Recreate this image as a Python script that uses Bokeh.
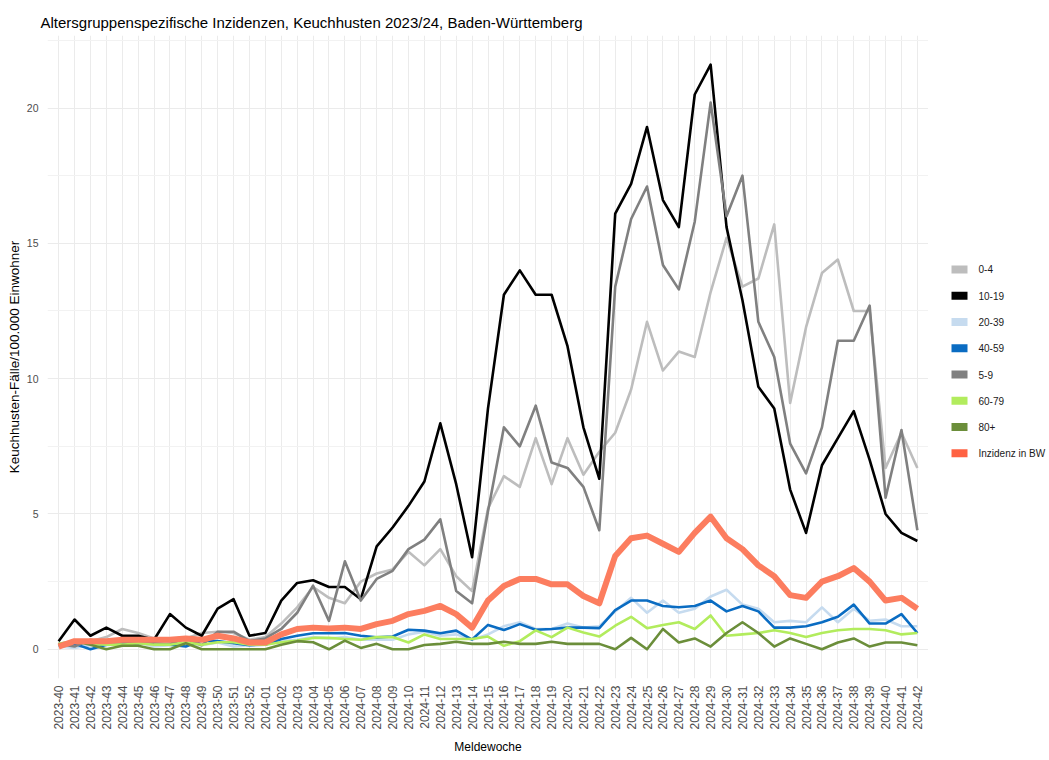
from bokeh.plotting import figure
from bokeh.models import FactorRange, Range1d, FixedTicker, ColumnDataSource
from bokeh.layouts import row
from bokeh.core.properties import value
from bokeh.embed import file_html
from bokeh.resources import INLINE

title = "Altersgruppenspezifische Inzidenzen, Keuchhusten 2023/24, Baden-Württemberg"
x_label = "Meldewoche"
y_label = "Keuchhusten-Fälle/100.000 Einwohner"

weeks = [f"2023-{w}" for w in range(40, 53)] + [f"2024-{w:02d}" for w in range(1, 43)]

age_0_4 = [0.2, 0.3, 0.3, 0.45, 0.75, 0.6, 0.4, 0.3, 0.4, 0.6, 0.65, 0.6, 0.35, 0.45, 0.95,
           1.55, 2.3, 1.9, 1.7, 2.5, 2.8, 2.95, 3.6, 3.1, 3.7, 2.7, 2.15, 5.2, 6.4, 6.0,
           7.8, 6.1, 7.8, 6.45, 7.3, 8.0, 9.6, 12.1, 10.3, 11.0, 10.8, 13.2, 15.2, 13.4, 13.7,
           15.7, 9.1, 11.9, 13.9, 14.4, 12.5, 12.5, 6.7, 8.0, 6.7]
age_10_19 = [0.3, 1.1, 0.5, 0.8, 0.5, 0.5, 0.35, 1.3, 0.8, 0.5, 1.5, 1.85, 0.5, 0.6, 1.8,
             2.45, 2.55, 2.3, 2.3, 1.85, 3.8, 4.5, 5.3, 6.2, 8.35, 6.1, 3.4, 8.9, 13.1, 14.0,
             13.1, 13.1, 11.2, 8.2, 6.3, 16.1, 17.2, 19.3, 16.6, 15.6, 20.5, 21.6, 15.6, 12.9, 9.7,
             8.9, 5.9, 4.3, 6.8, 7.8, 8.8, 7.0, 5.0, 4.3, 4.0]
age_20_39 = [0.1, 0.05, 0.15, 0.15, 0.2, 0.25, 0.1, 0.15, 0.2, 0.15, 0.25, 0.1, 0.15, 0.2, 0.3,
             0.35, 0.45, 0.4, 0.45, 0.35, 0.35, 0.35, 0.55, 0.65, 0.5, 0.55, 0.35, 0.55, 0.85, 1.0,
             0.75, 0.75, 0.95, 0.8, 0.85, 1.4, 1.9, 1.35, 1.8, 1.35, 1.5, 1.95, 2.2, 1.65, 1.5,
             1.0, 1.05, 1.0, 1.55, 1.0, 1.5, 1.05, 1.1, 0.85, 0.85]
age_40_59 = [0.13, 0.2, 0.0, 0.17, 0.17, 0.22, 0.22, 0.17, 0.1, 0.32, 0.3, 0.22, 0.15, 0.17, 0.38,
             0.5, 0.59, 0.59, 0.6, 0.5, 0.44, 0.47, 0.72, 0.69, 0.59, 0.69, 0.36, 0.9, 0.71, 0.93,
             0.72, 0.75, 0.8, 0.8, 0.78, 1.45, 1.8, 1.8, 1.6, 1.55, 1.6, 1.8, 1.4, 1.6, 1.4,
             0.8, 0.8, 0.85, 1.0, 1.2, 1.65, 0.95, 0.95, 1.3, 0.6]
age_5_9 = [0.2, 0.1, 0.35, 0.25, 0.25, 0.3, 0.2, 0.2, 0.4, 0.15, 0.65, 0.65, 0.3, 0.4, 0.75,
           1.35, 2.35, 1.05, 3.25, 1.8, 2.6, 2.9, 3.7, 4.05, 4.8, 2.15, 1.7, 5.1, 8.2, 7.5,
           9.0, 6.9, 6.7, 6.0, 4.4, 13.4, 15.9, 17.1, 14.2, 13.3, 15.8, 20.2, 16.0, 17.5, 12.1,
           10.8, 7.6, 6.5, 8.2, 11.4, 11.4, 12.7, 5.6, 8.1, 4.4]
age_60_79 = [0.2, 0.3, 0.2, 0.17, 0.17, 0.22, 0.17, 0.17, 0.26, 0.17, 0.26, 0.26, 0.17, 0.17, 0.26,
             0.32, 0.42, 0.42, 0.38, 0.35, 0.45, 0.45, 0.25, 0.55, 0.38, 0.38, 0.38, 0.47, 0.13, 0.3,
             0.7, 0.45, 0.8, 0.62, 0.47, 0.87, 1.2, 0.78, 0.9, 1.0, 0.75, 1.25, 0.5, 0.55, 0.6,
             0.7, 0.6, 0.45, 0.6, 0.7, 0.75, 0.75, 0.7, 0.55, 0.6]
age_80 = [0.17, 0.3, 0.17, 0.0, 0.13, 0.13, 0.0, 0.0, 0.22, 0.0, 0.0, 0.0, 0.0, 0.0, 0.17,
          0.3, 0.26, 0.0, 0.32, 0.05, 0.2, 0.0, 0.0, 0.16, 0.2, 0.28, 0.2, 0.2, 0.28, 0.2,
          0.2, 0.28, 0.2, 0.2, 0.2, 0.0, 0.42, 0.0, 0.75, 0.25, 0.4, 0.1, 0.6, 1.0, 0.6,
          0.1, 0.4, 0.2, 0.0, 0.25, 0.4, 0.1, 0.25, 0.25, 0.15]
inzidenz_bw = [0.1, 0.3, 0.3, 0.3, 0.35, 0.35, 0.35, 0.35, 0.4, 0.35, 0.5, 0.4, 0.25, 0.25, 0.55,
               0.75, 0.8, 0.77, 0.8, 0.75, 0.93, 1.05, 1.3, 1.42, 1.6, 1.3, 0.8, 1.8, 2.34, 2.6,
               2.6, 2.4, 2.4, 1.97, 1.7, 3.45, 4.1, 4.2, 3.9, 3.6, 4.3, 4.9, 4.1, 3.7, 3.1,
               2.7, 2.0, 1.9, 2.5, 2.7, 3.0, 2.5, 1.8, 1.9, 1.5]

series_names = ["0-4", "10-19", "20-39", "40-59", "5-9", "60-79", "80+"]
series_values = [age_0_4, age_10_19, age_20_39, age_40_59, age_5_9, age_60_79, age_80]
series_colors = ["#bdbdbd", "#000000", "#c6dbef", "#0a6cc2", "#808080", "#b2ec5d", "#6b8e3a"]
bw_name = "Inzidenz in BW"
bw_line_color = "#fc7d5f"
bw_key_color = "#ff6242"

FONT = "Liberation Sans"
H = 756
FRAME_L, FRAME_R, FRAME_T, FRAME_B = 47, 928, 35, 681
LEG_W = 119

p = figure(width=FRAME_R, height=H, output_backend="svg", toolbar_location=None,
           x_range=FactorRange(factors=weeks, range_padding=0.2, range_padding_units="absolute"),
           y_range=Range1d(-1.08, 22.68),
           min_border_left=FRAME_L, min_border_right=0,
           min_border_top=FRAME_T, min_border_bottom=H - FRAME_B,
           title=title)

p.title.text_font = FONT
p.title.text_font_size = "15px"
p.title.text_font_style = "normal"
p.title.text_color = "#000000"
p.title.align = "left"
p.title.offset = -7
p.title.standoff = 10

p.outline_line_color = None
p.background_fill_color = "white"
p.border_fill_color = "white"

p.xgrid.grid_line_color = "#ebebeb"
p.xgrid.grid_line_width = 1
p.ygrid.grid_line_color = "#ebebeb"
p.ygrid.grid_line_width = 1
p.ygrid.minor_grid_line_color = "#f2f2f2"
p.ygrid.minor_grid_line_width = 1
p.yaxis.ticker = FixedTicker(ticks=[0, 5, 10, 15, 20], minor_ticks=[2.5, 7.5, 12.5, 17.5, 22.5])

for ax in (p.xaxis[0], p.yaxis[0]):
    ax.axis_line_color = None
    ax.major_tick_line_color = None
    ax.minor_tick_line_color = None
    ax.major_tick_out = 0
    ax.major_tick_in = 0
    ax.minor_tick_out = 0
    ax.minor_tick_in = 0
    ax.major_label_text_font = FONT
    ax.major_label_text_color = "#4d4d4d"
    ax.axis_label_text_font = FONT
    ax.axis_label_text_font_style = "normal"
    ax.axis_label_text_color = "#000000"

p.xaxis.axis_label = x_label
p.xaxis.axis_label_text_font_size = "12px"
p.xaxis.major_label_text_font_size = "12px"
p.xaxis.major_label_orientation = 3.14159265 / 2
p.xaxis.major_label_standoff = 7
p.xaxis.axis_label_standoff = 7

p.yaxis.axis_label = y_label
p.yaxis.axis_label_text_font_size = "13.5px"
p.yaxis.major_label_text_font_size = "10.5px"
p.yaxis.major_label_standoff = 9
p.yaxis.axis_label_standoff = 2

for name, vals, col in zip(series_names, series_values, series_colors):
    src = ColumnDataSource(dict(week=weeks, val=vals))
    p.line("week", "val", source=src, line_color=col, line_width=2.6, line_join="round")

src_bw = ColumnDataSource(dict(week=weeks, val=inzidenz_bw))
p.line("week", "val", source=src_bw, line_color=bw_line_color, line_width=6, line_join="round")

# legend panel: a small figure whose ranges are in page pixels (y downwards)
legend_labels = series_names + [bw_name]
legend_colors = series_colors + [bw_key_color]
first_row_y, row_pitch = 270, 26.4
key_x, text_x = 959, 978
row_y = [first_row_y + row_pitch * i for i in range(len(legend_labels))]

leg = figure(width=LEG_W, height=H, output_backend="svg", toolbar_location=None,
             x_range=Range1d(FRAME_R, FRAME_R + LEG_W), y_range=Range1d(FRAME_B, FRAME_T),
             min_border_left=0, min_border_right=0,
             min_border_top=FRAME_T, min_border_bottom=H - FRAME_B,
             outline_line_color=None)
leg.axis.visible = False
leg.grid.visible = False
leg.rect(x=[key_x] * len(row_y), y=row_y, width=16, height=8,
         width_units="screen", height_units="screen",
         fill_color=legend_colors, line_color=None)
leg.text(x=[text_x] * len(row_y), y=row_y, text=legend_labels,
         text_baseline="middle", text_align="left",
         text_font=value(FONT), text_font_size="10px", text_color="#1a1a1a")

layout = row(p, leg, spacing=0)
open("out.html", "w").write(file_html(layout, INLINE))
